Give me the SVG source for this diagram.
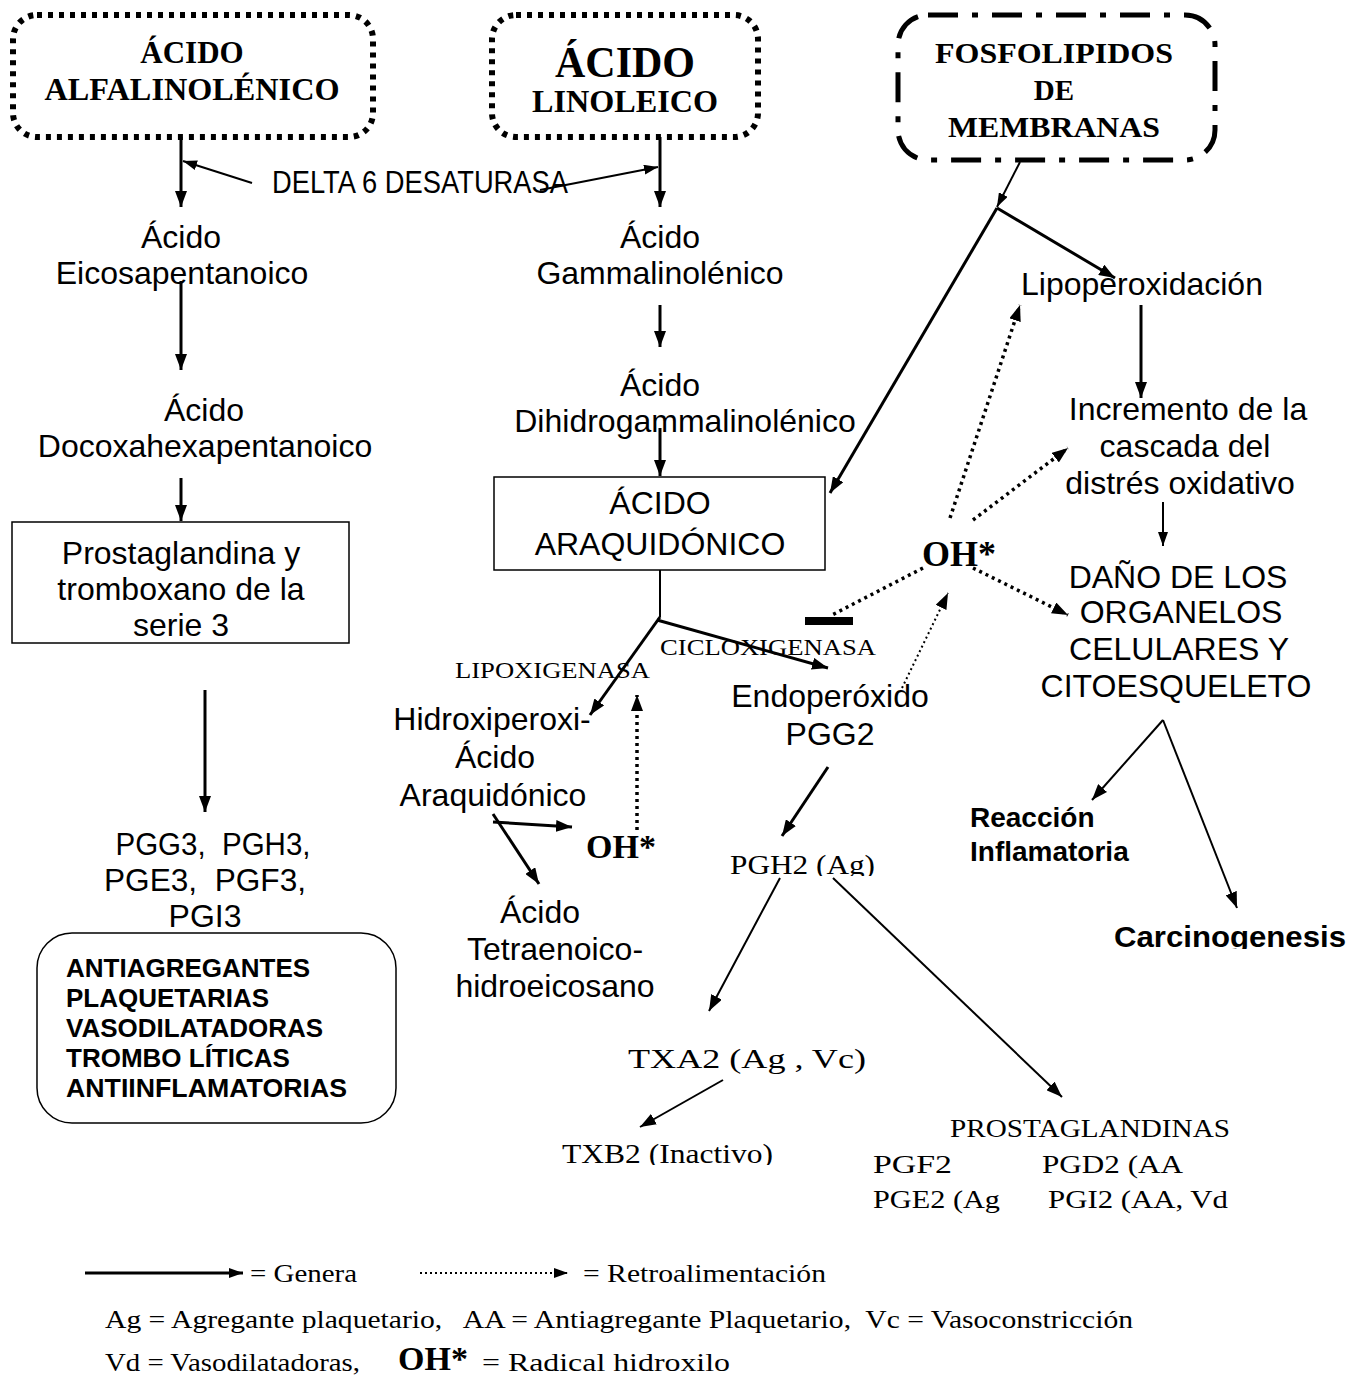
<svg xmlns="http://www.w3.org/2000/svg" width="1354" height="1377" viewBox="0 0 1354 1377">
<style>
.a{font-family:"Liberation Sans",Arial,sans-serif;font-size:32px;fill:#000}
.ab{font-family:"Liberation Sans",Arial,sans-serif;font-weight:bold;fill:#000}
.t{font-family:"Liberation Serif","Times New Roman",serif;fill:#000}
.tb{font-family:"Liberation Serif","Times New Roman",serif;font-weight:bold;fill:#000}
.m{text-anchor:middle}
.ln{stroke:#000;stroke-width:3;fill:none}
.thin{stroke:#000;stroke-width:2;fill:none}
.dot{stroke:#000;stroke-width:3.5;stroke-dasharray:3 4;fill:none}
.fdot{stroke:#000;stroke-width:2;stroke-dasharray:2 3;fill:none}
</style>
<defs>
<marker id="ah" viewBox="0 0 16 12" refX="16" refY="6" markerWidth="16" markerHeight="12" markerUnits="userSpaceOnUse" orient="auto"><path d="M0,0 L16,6 L0,12 z" fill="#000"/></marker>
<marker id="as" viewBox="0 0 14 10" refX="14" refY="5" markerWidth="14" markerHeight="10" markerUnits="userSpaceOnUse" orient="auto"><path d="M0,0 L14,5 L0,10 z" fill="#000"/></marker>
<clipPath id="c1"><rect x="700" y="840" width="200" height="36"/></clipPath>
<clipPath id="c2"><rect x="540" y="1130" width="260" height="35"/></clipPath>
<clipPath id="c3"><rect x="1100" y="915" width="254" height="34"/></clipPath>
</defs>
<rect width="1354" height="1377" fill="#fff"/>

<g id="connectors">
<line class="ln" x1="181" y1="137" x2="181" y2="207" marker-end="url(#ah)"/>
<line class="ln" x1="660" y1="137" x2="660" y2="207" marker-end="url(#ah)"/>
<line class="thin" x1="252" y1="183" x2="183" y2="161" marker-end="url(#as)"/>
<line class="thin" x1="540" y1="190" x2="658" y2="167" marker-end="url(#as)"/>
<line class="ln" x1="181" y1="281" x2="181" y2="370" marker-end="url(#ah)"/>
<line class="ln" x1="181" y1="478" x2="181" y2="521" marker-end="url(#ah)"/>
<line class="ln" x1="660" y1="305" x2="660" y2="347" marker-end="url(#ah)"/>
<line class="ln" x1="660" y1="428" x2="660" y2="476" marker-end="url(#ah)"/>
<line class="ln" x1="205" y1="690" x2="205" y2="812" marker-end="url(#ah)"/>
<line class="thin" x1="660" y1="570" x2="660" y2="617"/>
<line class="ln" x1="660" y1="617" x2="590" y2="715" marker-end="url(#ah)"/>
<line class="ln" x1="657" y1="620" x2="828" y2="668" marker-end="url(#ah)"/>
<line class="ln" x1="493" y1="822" x2="572" y2="827" marker-end="url(#ah)"/>
<line class="ln" x1="493" y1="814" x2="539" y2="884" marker-end="url(#ah)"/>
<line class="thin" x1="1020" y1="162" x2="997" y2="207" marker-end="url(#as)"/>
<line class="ln" x1="997" y1="208" x2="830" y2="493" marker-end="url(#ah)"/>
<line class="ln" x1="997" y1="208" x2="1115" y2="278" marker-end="url(#ah)"/>
<line class="ln" x1="1141" y1="305" x2="1141" y2="398" marker-end="url(#ah)"/>
<line class="thin" x1="1163" y1="502" x2="1163" y2="546" marker-end="url(#as)"/>
<line class="thin" x1="1163" y1="720" x2="1092" y2="800" marker-end="url(#ah)"/>
<line class="thin" x1="1163" y1="720" x2="1237" y2="908" marker-end="url(#ah)"/>
<line class="ln" x1="828" y1="767" x2="782" y2="836" marker-end="url(#ah)"/>
<line class="thin" x1="780" y1="878" x2="709" y2="1011" marker-end="url(#ah)"/>
<line class="thin" x1="833" y1="878" x2="1062" y2="1097" marker-end="url(#ah)"/>
<line class="thin" x1="723" y1="1080" x2="640" y2="1127" marker-end="url(#ah)"/>
<line class="dot" x1="950" y1="518" x2="1020" y2="305" marker-end="url(#ah)"/>
<line class="dot" x1="973" y1="520" x2="1068" y2="448" marker-end="url(#ah)"/>
<line class="dot" x1="973" y1="568" x2="1068" y2="615" marker-end="url(#ah)"/>
<line class="dot" x1="923" y1="568" x2="830" y2="616"/>
<rect x="805" y="617" width="48" height="8" fill="#000"/>
<line class="dot" x1="637" y1="830" x2="637" y2="695" marker-end="url(#ah)"/>
<line class="fdot" x1="902" y1="688" x2="948" y2="593" marker-end="url(#ah)"/>
</g>

<g id="n-alfa">
<rect x="13" y="15" width="360" height="122" rx="24" fill="none" stroke="#000" stroke-width="6" stroke-dasharray="5 6"/>
<text class="tb m" x="192" y="63" font-size="31">ÁCIDO</text>
<text class="tb m" x="192" y="100" font-size="31" textLength="295" lengthAdjust="spacingAndGlyphs">ALFALINOLÉNICO</text>
</g>
<g id="n-linoleico">
<rect x="492" y="15" width="266" height="122" rx="24" fill="none" stroke="#000" stroke-width="6" stroke-dasharray="5 6"/>
<text class="tb m" x="625" y="77" font-size="44" textLength="140" lengthAdjust="spacingAndGlyphs">ÁCIDO</text>
<text class="tb m" x="625" y="112" font-size="31" textLength="186" lengthAdjust="spacingAndGlyphs">LINOLEICO</text>
</g>
<g id="n-fosfo">
<rect x="898" y="15" width="317" height="145" rx="30" fill="none" stroke="#000" stroke-width="5" stroke-dasharray="30 14 6 14"/>
<text class="tb m" x="1054" y="63" font-size="29" textLength="238" lengthAdjust="spacingAndGlyphs">FOSFOLIPIDOS</text>
<text class="tb m" x="1054" y="100" font-size="29">DE</text>
<text class="tb m" x="1054" y="137" font-size="29" textLength="212" lengthAdjust="spacingAndGlyphs">MEMBRANAS</text>
</g>
<g id="l-delta"><text class="a" x="272" y="193" font-size="26" textLength="296" lengthAdjust="spacingAndGlyphs">DELTA 6 DESATURASA</text></g>

<g id="n-eicosa"><text class="a m" x="181" y="248">Ácido</text><text class="a m" x="182" y="284">Eicosapentanoico</text></g>
<g id="n-docoxa"><text class="a m" x="204" y="421">Ácido</text><text class="a m" x="205" y="457">Docoxahexapentanoico</text></g>
<g id="n-serie3">
<rect x="12" y="522" width="337" height="121" fill="none" stroke="#000" stroke-width="1.5"/>
<text class="a m" x="181" y="564">Prostaglandina y</text>
<text class="a m" x="181" y="600">tromboxano de la</text>
<text class="a m" x="181" y="636">serie 3</text>
</g>
<g id="n-pg3"><text class="a m" x="213" y="855" font-size="30" textLength="195" lengthAdjust="spacingAndGlyphs">PGG3,&#160; PGH3,</text><text class="a m" x="205" y="891" font-size="30" textLength="202" lengthAdjust="spacingAndGlyphs">PGE3,&#160; PGF3,</text><text class="a m" x="205" y="927" font-size="30">PGI3</text></g>
<g id="n-efectos">
<rect x="37" y="933" width="359" height="190" rx="35" fill="none" stroke="#000" stroke-width="1.5"/>
<text class="ab" x="66" y="977" font-size="26">ANTIAGREGANTES</text>
<text class="ab" x="66" y="1007" font-size="26">PLAQUETARIAS</text>
<text class="ab" x="66" y="1037" font-size="26">VASODILATADORAS</text>
<text class="ab" x="66" y="1067" font-size="26">TROMBO LÍTICAS</text>
<text class="ab" x="66" y="1097" font-size="26" textLength="281" lengthAdjust="spacingAndGlyphs">ANTIINFLAMATORIAS</text>
</g>

<g id="n-gamma"><text class="a m" x="660" y="248">Ácido</text><text class="a m" x="660" y="284">Gammalinolénico</text></g>
<g id="n-dihidro"><text class="a m" x="660" y="396">Ácido</text><text class="a m" x="685" y="432">Dihidrogammalinolénico</text></g>
<g id="n-araq">
<rect x="494" y="477" width="331" height="93" fill="none" stroke="#000" stroke-width="1.5"/>
<text class="a m" x="660" y="514">ÁCIDO</text>
<text class="a m" x="660" y="555">ARAQUIDÓNICO</text>
</g>
<g id="l-lipox"><text class="t" x="455" y="678" font-size="24" textLength="195" lengthAdjust="spacingAndGlyphs">LIPOXIGENASA</text></g>
<g id="l-ciclox"><text class="t" x="660" y="655" font-size="24" textLength="216" lengthAdjust="spacingAndGlyphs">CICLOXIGENASA</text></g>
<g id="n-hidroxi"><text class="a m" x="492" y="730">Hidroxiperoxi-</text><text class="a m" x="495" y="768">Ácido</text><text class="a m" x="493" y="806">Araquidónico</text></g>
<g id="n-oh1"><text class="tb" x="586" y="858" font-size="34">OH*</text></g>
<g id="n-tetra"><text class="a m" x="540" y="923">Ácido</text><text class="a m" x="555" y="960">Tetraenoico-</text><text class="a m" x="555" y="997">hidroeicosano</text></g>
<g id="n-endo"><text class="a m" x="830" y="707">Endoperóxido</text><text class="a m" x="830" y="745">PGG2</text></g>
<g id="n-pgh2"><text class="t" x="730" y="874" font-size="28" textLength="145" lengthAdjust="spacingAndGlyphs" clip-path="url(#c1)">PGH2 (Ag)</text></g>
<g id="n-txa2"><text class="t" x="628" y="1068" font-size="28" textLength="238" lengthAdjust="spacingAndGlyphs">TXA2 (Ag , Vc)</text></g>
<g id="n-txb2"><text class="t" x="562" y="1163" font-size="28" textLength="211" lengthAdjust="spacingAndGlyphs" clip-path="url(#c2)">TXB2 (Inactivo)</text></g>
<g id="n-prost">
<text class="t" x="950" y="1137" font-size="26" textLength="280" lengthAdjust="spacingAndGlyphs">PROSTAGLANDINAS</text>
<text class="t" x="873" y="1173" font-size="26" textLength="79" lengthAdjust="spacingAndGlyphs">PGF2</text>
<text class="t" x="1042" y="1173" font-size="26" textLength="141" lengthAdjust="spacingAndGlyphs">PGD2 (AA</text>
<text class="t" x="873" y="1208" font-size="26" textLength="127" lengthAdjust="spacingAndGlyphs">PGE2 (Ag</text>
<text class="t" x="1048" y="1208" font-size="26" textLength="180" lengthAdjust="spacingAndGlyphs">PGI2 (AA, Vd</text>
</g>

<g id="n-oh2"><text class="tb" x="922" y="566" font-size="36">OH*</text></g>
<g id="n-lipo"><text class="a" x="1021" y="295">Lipoperoxidación</text></g>
<g id="n-incremento"><text class="a m" x="1188" y="420">Incremento de la</text><text class="a m" x="1185" y="457">cascada del</text><text class="a m" x="1180" y="494">distrés oxidativo</text></g>
<g id="n-dano"><text class="a m" x="1178" y="588">DAÑO DE LOS</text><text class="a m" x="1181" y="623">ORGANELOS</text><text class="a m" x="1179" y="660">CELULARES Y</text><text class="a m" x="1176" y="697">CITOESQUELETO</text></g>
<g id="n-reaccion"><text class="ab" x="970" y="827" font-size="28">Reacción</text><text class="ab" x="970" y="861" font-size="28">Inflamatoria</text></g>
<g id="n-carcino"><text class="ab" x="1114" y="947" font-size="29" textLength="232" lengthAdjust="spacingAndGlyphs" clip-path="url(#c3)">Carcinogenesis</text></g>

<g id="legend">
<line class="ln" x1="85" y1="1273" x2="243" y2="1273" marker-end="url(#as)"/>
<text class="t" x="250" y="1282" font-size="26" textLength="107" lengthAdjust="spacingAndGlyphs">= Genera</text>
<line class="fdot" x1="420" y1="1273" x2="568" y2="1273" stroke-width="1.5" stroke-dasharray="1.5 2" marker-end="url(#as)"/>
<text class="t" x="583" y="1282" font-size="26" textLength="243" lengthAdjust="spacingAndGlyphs">= Retroalimentación</text>
<text class="t" x="105" y="1328" font-size="26" textLength="1028" lengthAdjust="spacingAndGlyphs">Ag = Agregante plaquetario,&#160;&#160; AA = Antiagregante Plaquetario,&#160; Vc = Vasoconstricción</text>
<text class="t" x="105" y="1371" font-size="26" textLength="255" lengthAdjust="spacingAndGlyphs">Vd = Vasodilatadoras,</text>
<text class="tb" x="398" y="1370" font-size="34">OH*</text>
<text class="t" x="482" y="1371" font-size="26" textLength="248" lengthAdjust="spacingAndGlyphs">= Radical hidroxilo</text>
</g>
</svg>
